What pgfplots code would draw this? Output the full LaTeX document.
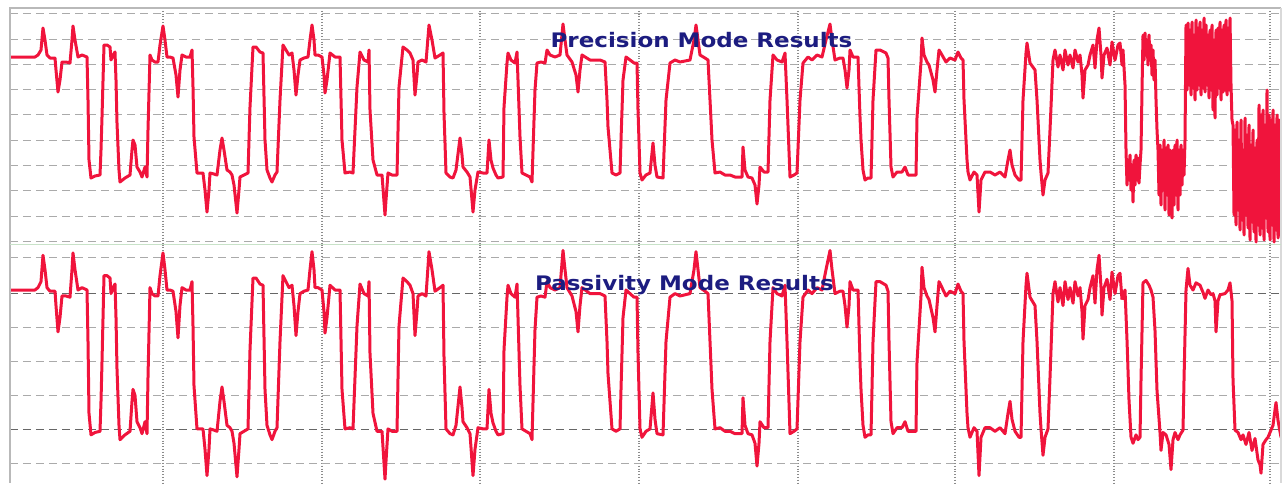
\documentclass[border=0pt]{standalone}
\usepackage{pgfplots}
\pgfplotsset{compat=1.18}
\usepackage{pgfplotstable}
\usepackage{fontspec}
\setmainfont{DejaVu Sans}
\definecolor{sig}{RGB}{240,20,60}
\definecolor{ttl}{RGB}{28,28,128}
\definecolor{grd}{RGB}{170,170,170}
\definecolor{sep}{RGB}{200,226,200}

% Precision channel (x: sample position, y: plotted level, downward positive)
\pgfplotstableread{
x y
10 57
35 57
38 55
41 50
43 28
45 40
47 55
50 58
55 58
56 70
58 92
60 80
62 62
66 62
70 63
72 40
73 26
75 40
78 57
82 55
87 57
88 100
89 160
91 178
95 176
100 175
101 150
102 117
104 45
107 45
110 47
111 60
113 55
115 52
116 80
117 123
119 170
120 182
125 178
130 175
132 150
133 140
135 145
137 167
140 172
142 177
145 167
147 177
148 130
150 55
152 60
155 62
158 62
160 45
163 26
165 40
167 57
170 57
173 58
176 75
178 97
180 70
182 55
186 57
190 57
192 50
193 87
194 137
197 173
200 173
203 173
205 190
207 212
209 190
210 173
214 174
217 175
220 150
222 138
224 150
227 170
230 172
232 175
234 185
237 213
239 190
240 177
244 175
248 173
250 107
253 47
256 47
260 52
263 53
265 140
267 170
270 178
272 182
275 175
277 172
280 100
283 45
286 50
289 55
292 53
294 70
296 95
298 75
300 60
304 58
308 57
310 40
312 25
314 40
315 55
318 55
322 57
324 75
325 93
327 80
330 53
335 57
340 57
342 140
345 173
350 172
353 173
357 87
360 52
364 60
368 62
369 50
370 110
373 160
377 175
382 175
385 215
386 200
388 173
392 175
397 175
399 87
403 47
407 50
410 53
413 60
415 95
417 75
418 62
422 60
426 62
429 25
432 40
435 58
440 55
443 53
444 113
446 173
450 177
453 178
456 170
460 138
462 155
463 167
467 172
470 177
473 212
475 190
478 172
483 173
487 173
489 140
491 160
493 168
496 175
498 178
503 177
504 107
507 63
508 53
511 60
515 63
517 52
518 80
520 137
522 173
526 175
530 177
532 182
534 120
535 90
537 63
541 62
545 63
547 50
550 55
555 57
560 55
563 24
565 40
567 55
572 62
576 75
578 92
580 70
582 55
590 60
600 60
605 62
607 100
608 127
612 173
616 175
620 173
621 140
623 80
626 57
630 60
634 63
637 63
638 110
640 173
642 180
646 175
650 173
653 143
655 165
657 177
663 178
666 100
670 63
675 60
680 62
690 60
694 40
696 25
698 40
700 55
705 58
708 60
710 100
712 140
715 173
720 172
725 175
730 175
735 177
742 177
743 147
745 170
748 177
752 178
755 185
757 204
759 185
760 167
764 172
768 172
770 100
773 55
777 60
782 62
785 53
787 100
790 177
794 175
797 173
800 100
803 63
808 57
812 60
817 55
822 57
826 40
830 24
832 40
835 60
840 58
843 58
845 70
847 88
849 70
850 50
853 57
858 57
860 117
861 140
863 170
865 180
868 178
871 178
873 100
876 50
880 50
886 53
888 58
889 100
891 167
893 177
897 172
902 172
905 167
908 175
912 175
916 175
917 117
921 62
922 38
924 55
927 62
929 65
933 80
935 92
937 70
939 50
942 55
946 62
950 58
955 60
958 52
961 58
963 60
964 100
967 160
968 172
970 180
974 172
977 175
979 212
981 180
985 172
990 172
995 175
1000 172
1005 177
1008 160
1010 150
1012 165
1015 175
1019 180
1021 180
1023 100
1026 53
1027 43
1030 63
1035 70
1037 100
1040 160
1041 173
1043 195
1045 180
1048 173
1050 130
1053 60
1055 50
1058 67
1060 55
1063 70
1065 50
1068 65
1070 55
1073 68
1075 50
1078 62
1080 55
1082 75
1083 98
1085 70
1088 65
1090 55
1093 45
1095 68
1097 40
1099 28
1101 55
1102 78
1104 55
1107 48
1110 65
1112 42
1115 60
1118 45
1120 43
1122 65
1123 50
1125 85
1126 150
1127 185
1128 160
1129 180
1130 155
1131 190
1132 165
1133 202
1134 160
1135 185
1136 155
1137 180
1138 158
1139 183
1140 165
1141 150
1142 90
1143 35
1144 60
1145 33
1146 55
1147 40
1148 65
1149 35
1150 60
1151 45
1152 75
1153 50
1154 80
1155 60
1156 100
1157 130
1158 150
1159 195
1160 145
1161 205
1162 150
1163 190
1164 140
1165 210
1166 148
1167 195
1168 145
1169 215
1170 150
1171 200
1172 218
1173 150
1174 205
1175 145
1176 195
1177 140
1178 210
1179 150
1180 195
1181 145
1182 185
1183 150
1184 175
1185 140
1186 25
1187 90
1188 23
1189 85
1190 30
1191 95
1192 22
1193 88
1194 35
1195 100
1196 20
1197 90
1198 28
1199 85
1200 22
1201 95
1202 30
1203 88
1204 18
1205 92
1206 25
1207 85
1208 35
1209 98
1210 30
1211 90
1212 25
1213 110
1214 40
1215 118
1216 30
1217 95
1218 28
1219 88
1220 22
1221 100
1222 30
1223 92
1224 25
1225 90
1226 20
1227 95
1228 28
1229 90
1230 18
1231 85
1232 120
1233 125
1234 215
1235 130
1236 225
1237 122
1238 210
1239 140
1240 230
1241 120
1242 220
1243 150
1244 235
1245 118
1246 215
1247 135
1248 228
1249 125
1250 240
1251 145
1252 222
1253 130
1254 232
1255 148
1256 242
1257 140
1258 225
1259 105
1260 235
1261 115
1262 228
1263 110
1264 240
1265 125
1266 218
1267 90
1268 232
1269 115
1270 240
1271 120
1272 225
1273 110
1274 242
1275 125
1276 230
1277 115
1278 238
1279 120
1280 235
1281 130
}\topdata

% Passivity channel: last part, where it differs from the precision channel
\pgfplotstableread{
x y
1122 65
1125 57
1127 99
1129 149
1131 180
1133 185
1136 178
1138 182
1140 180
1141 132
1143 51
1146 49
1149 53
1151 57
1153 63
1155 91
1157 141
1160 176
1161 191
1163 176
1166 178
1169 186
1171 207
1173 182
1175 176
1178 182
1180 178
1183 174
1184 132
1186 57
1188 39
1190 53
1193 57
1196 51
1200 53
1203 59
1205 64
1208 57
1211 61
1213 60
1215 66
1216 92
1218 66
1220 61
1225 60
1228 57
1230 51
1232 66
1233 132
1235 174
1238 176
1241 182
1243 178
1246 186
1249 176
1252 191
1255 181
1258 199
1260 203
1261 210
1263 186
1266 182
1268 180
1270 176
1273 170
1275 157
1276 151
1278 166
1281 180
}\bottail

\pgfplotsset{panel/.style={
  scale only axis, width=635.5pt,
  xmin=10, xmax=1281, y dir=reverse,
  axis line style={draw=none},
  xtick={163,322,480,639,798,955,1114,1270},
  xticklabels={}, yticklabels={},
  tick style={draw=none}, major tick length=0pt,
  xmajorgrids, ymajorgrids,
  x grid style={black!45, densely dotted, line width=0.6pt},
  y grid style={grd, dash pattern=on 4pt off 2.5pt, line width=0.5pt},
  clip mode=individual,
}}

\begin{document}
\begin{tikzpicture}
\useasboundingbox (0,0) rectangle (641.5pt,-241.5pt);
\begin{axis}[panel, at={(5pt,-4pt)}, anchor=north west, height=118.25pt,
  ymin=8, ymax=244.5,
  ytick={13.7,39,64.3,89.6,114.9,140.2,165.5,190.8,216.1,241.4}]
\addplot[sig, line width=1.5pt, line join=round, mark=none] table {\topdata};
\draw[gray!55, line width=0.8pt] (axis cs:10,244.5) -- (axis cs:10,8) -- (axis cs:1281,8);
\draw[gray!30, line width=0.6pt] (axis cs:1281,8) -- (axis cs:1281,244.5);
\draw[sep, line width=0.8pt] (axis cs:10,244.5) -- (axis cs:1281,244.5);
\node[anchor=base, text=ttl, inner sep=0pt] at (axis cs:701.5,47)
  {\scalebox{1.15}[1]{\fontsize{10pt}{12pt}\selectfont\bfseries Precision Mode Results}};
\end{axis}
\begin{axis}[panel, at={(5pt,-122.25pt)}, anchor=north west, height=119.25pt,
  ymin=19, ymax=218.2,
  ytick={29.8,88.2,116.5,144.8,201.5}]
\draw[black!60, dash pattern=on 4pt off 2.5pt, line width=0.5pt] (axis cs:10,59.8) -- (axis cs:1281,59.8);
\draw[black!60, dash pattern=on 4pt off 2.5pt, line width=0.5pt] (axis cs:10,173.2) -- (axis cs:1281,173.2);
\addplot[sig, line width=1.5pt, line join=round, mark=none, restrict x to domain=10:1122] table {\topdata};
\addplot[sig, line width=1.5pt, line join=round, mark=none] table {\bottail};
\draw[gray!55, line width=0.8pt] (axis cs:10,19) -- (axis cs:10,218.2);
\draw[gray!30, line width=0.6pt] (axis cs:1281,19) -- (axis cs:1281,218.2);
\node[anchor=base, text=ttl, inner sep=0pt] at (axis cs:684.5,57.3)
  {\scalebox{1.15}[1]{\fontsize{10pt}{12pt}\selectfont\bfseries Passivity Mode Results}};
\end{axis}
\end{tikzpicture}
\end{document}
